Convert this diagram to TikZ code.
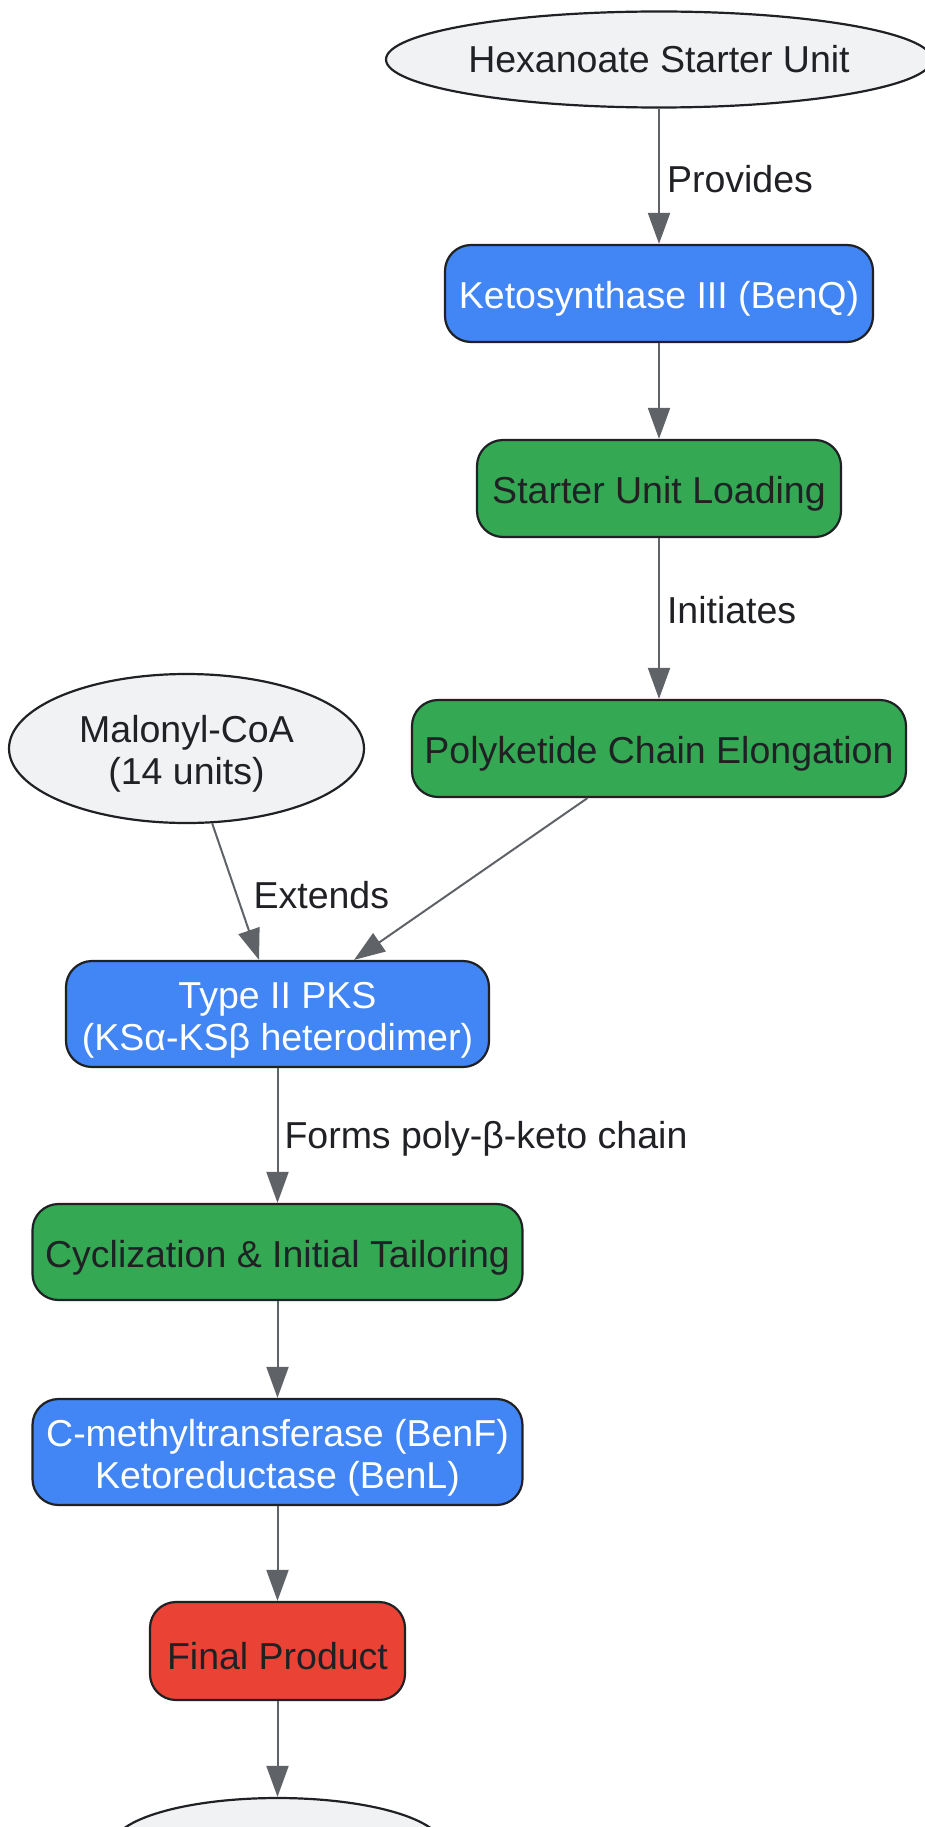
\documentclass[tikz,border=0pt]{standalone}
\usepackage{fontspec}
\setmainfont{Liberation Sans}
\usetikzlibrary{arrows.meta,shapes.geometric}
\definecolor{pkblue}{HTML}{4285F4}
\definecolor{pkgreen}{HTML}{34A853}
\definecolor{pkred}{HTML}{EA4335}
\definecolor{pkgray}{HTML}{F1F2F4}
\definecolor{pkline}{HTML}{5F6368}
\definecolor{pkink}{HTML}{202124}
\newcommand{\pkstrut}{\rule{0pt}{38pt}}
\tikzset{>={Triangle[length=31pt,width=22pt]}}
\tikzset{
  every node/.style={font=\fontsize{37.5}{42}\selectfont, text=pkink},
  enzyme/.style={draw=pkink, line width=2.2pt, rounded corners=26pt, fill=pkblue, text=white, align=center, inner sep=0pt, execute at begin node=\pkstrut},
  stage/.style={enzyme, fill=pkgreen, text=pkink},
  product/.style={enzyme, fill=pkred, text=pkink},
  substrate/.style={ellipse, draw=pkink, line width=2.2pt, fill=pkgray, align=center, inner sep=0pt},
  flow/.style={->, draw=pkline, line width=2pt},
  edgelabel/.style={inner sep=4pt, yshift=-3pt}
}

\begin{document}
\begin{tikzpicture}[x=1pt,y=-1pt]
    \useasboundingbox (0,0) rectangle (924,1827);
    \node[substrate, minimum width=546pt, minimum height=96pt] (hex) at (659,59.5) {Hexanoate Starter Unit};
    \node[enzyme, minimum width=428pt, minimum height=97pt] (ks3) at (659,293.5) {Ketosynthase III (BenQ)};
    \node[stage, minimum width=364pt, minimum height=97pt] (load) at (659,488.5) {Starter Unit Loading};
    \node[stage, minimum width=494pt, minimum height=97pt] (elong) at (659,748.5) {Polyketide Chain Elongation};
    \node[substrate, minimum width=355pt, minimum height=149pt] (malonyl) at (186.5,748.5) {\rule{0pt}{37pt}Malonyl-CoA\\(14 units)};
    \node[enzyme, minimum width=423pt, minimum height=106pt] (pks) at (277.5,1014) {\pkstrut Type II PKS\\(KSα-KSβ heterodimer)};
    \node[stage, minimum width=490pt, minimum height=96pt] (cycl) at (277.5,1252) {Cyclization \& Initial Tailoring};
    \node[enzyme, minimum width=490pt, minimum height=106pt] (tailor) at (277.5,1452) {\pkstrut C-methyltransferase (BenF)\\Ketoreductase (BenL)};
    \node[product, minimum width=255pt, minimum height=98pt] (final) at (277.5,1651) {Final Product};
    \node[substrate, minimum width=330pt, minimum height=96pt] (cmpd) at (277.5,1846) {};
    \draw[flow] (hex) -- node[edgelabel, right=3pt] {Provides} (ks3);
    \draw[flow] (ks3) -- (load);
    \draw[flow] (load) -- node[edgelabel, right=3pt, pos=0.43] {Initiates} (elong);
    \draw[flow] (malonyl) -- node[edgelabel, right=13pt] {Extends} ([xshift=-18.5pt]pks.north);
    \draw[flow] (elong) -- ([xshift=76.5pt]pks.north);
    \draw[flow] (pks) -- node[edgelabel, right=2pt] {Forms poly-β-keto chain} (cycl);
    \draw[flow] (cycl) -- (tailor);
    \draw[flow] (tailor) -- (final);
    \draw[flow] (final) -- (cmpd);
    \end{tikzpicture}
\end{document}
